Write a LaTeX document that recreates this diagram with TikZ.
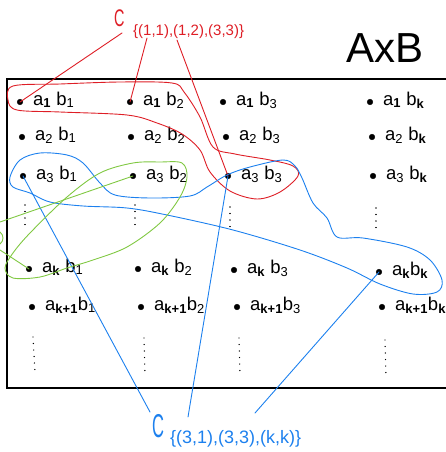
\documentclass[tikz,border=0pt]{standalone}
\usepackage{fontspec}
\setmainfont{Liberation Sans}
\usetikzlibrary{calc}

\definecolor{penred}{RGB}{222,30,38}
\definecolor{penblue}{RGB}{28,128,238}
\definecolor{pengreen}{RGB}{128,200,66}

\newcommand{\bsub}[1]{\textsubscript{\textbf{#1}}}
\newcommand{\nsub}[1]{\textsubscript{#1}}

\begin{document}
\begin{tikzpicture}[x=1pt,y=-1pt,
    pair/.style={anchor=base west, inner sep=0pt, font=\fontsize{18.5}{18.5}\selectfont},
    pen/.style={line width=0.9pt, line cap=round, line join=round},
    vdots/.style={line width=1.4pt, dash pattern=on 0.01pt off 6.5pt, line cap=round}]
    \clip (0,0) rectangle (446,452);
    % the set A x B
    \draw[line width=1.1pt] (7,79) rectangle (470,388);
    \node[anchor=base, inner sep=0pt, font=\fontsize{42}{42}\selectfont] (title) at (385,63) {AxB};
    \foreach \nm/\px/\py/\txt in {
        a1b1/20/102/{a\bsub{1} b\nsub{1}}, a1b2/130/102/{a\bsub{1} b\nsub{2}},
        a1b3/223/102/{a\bsub{1} b\nsub{3}}, a1bk/370/102/{a\bsub{1} b\bsub{k}},
        a2b1/22/137/{a\nsub{2} b\nsub{1}}, a2b2/131/137/{a\nsub{2} b\nsub{2}},
        a2b3/226/137/{a\nsub{2} b\nsub{3}}, a2bk/372/137/{a\nsub{2} b\bsub{k}},
        a3b1/23/176/{a\nsub{3} b\nsub{1}}, a3b2/133/176/{a\nsub{3} b\nsub{2}},
        a3b3/228/176/{a\nsub{3} b\nsub{3}}, a3bk/373/176/{a\nsub{3} b\bsub{k}},
        akb1/29/269/{a\bsub{k} b\nsub{1}}, akb2/138/269/{a\bsub{k} b\nsub{2}},
        akb3/234/270/{a\bsub{k} b\nsub{3}}, akbk/379/272/{a\bsub{k}b\bsub{k}},
        aab1/32/307/{a\bsub{k+1}b\nsub{1}}, aab2/141/307/{a\bsub{k+1}b\nsub{2}},
        aab3/237/307/{a\bsub{k+1}b\nsub{3}}, aabk/382/307/{a\bsub{k+1}b\bsub{k}}} {
        \coordinate (\nm) at (\px,\py);
        \filldraw (\nm) circle (2.8pt);
        \node[pair] (t\nm) at ($(\nm)+(13,3)$) {\txt};
    }
    % vertical dots
    \foreach \xa/\xb/\ya/\yb in {25/25/205/230, 135/135/205/231, 230/230/207/232, 376/376/208/233,
        33/35/337/373, 144/145/338/375, 239/240/338/375, 385/386/340/377}
        {\draw[vdots] (\xa,\ya) -- (\xb,\yb);}
    % red set
    \node[anchor=base west, inner sep=0pt, text=penred, font=\fontsize{24}{24}\selectfont] (redC) at (114,27) {\scalebox{0.6}[1]{C}};
    \node[anchor=base west, inner sep=0pt, text=penred, font=\fontsize{15}{15}\selectfont] (redsub) at (133,36) {\{(1,1),(1,2),(3,3)\}};
    \coordinate (rl1) at (122,33);
    \coordinate (rl2) at (147,38);
    \coordinate (rl3) at (177,40);
    \draw[pen, penred] (rl1) -- (a1b1);
    \draw[pen, penred] (rl2) -- (a1b2);
    \draw[pen, penred] (rl3) -- (a3b3);
    \draw[pen, penred] plot[smooth cycle, tension=0.55] coordinates {
        (8,100) (13,86) (60,84) (120,82) (172,83) (184,92) (200,117) (213,147) (235,154)
        (270,160) (293,166) (298,176) (280,192) (257,199) (230,191) (210,172) (200,150)
        (182,134) (157,123) (127,115) (60,112) (17,110)};
    % blue set
    \node[anchor=base west, inner sep=0pt, text=penblue, font=\fontsize{33}{33}\selectfont] (blueC) at (152,437) {\scalebox{0.5}[1]{C}};
    \node[anchor=base west, inner sep=0pt, text=penblue, font=\fontsize{18}{18}\selectfont] (bluesub) at (170,443) {\{(3,1),(3,3),(k,k)\}};
    \coordinate (bl1) at (150,412);
    \coordinate (bl2) at (188,417);
    \coordinate (bl3) at (255,413);
    \draw[pen, penblue] (bl1) -- (a3b1);
    \draw[pen, penblue] (bl2) -- (a3b3);
    \draw[pen, penblue] (bl3) -- (akbk);
    \draw[pen, penblue] plot[smooth cycle, tension=0.55] coordinates {
        (10,177) (20,160) (40,153) (67,155) (83,163) (100,183) (115,195) (150,198) (190,196)
        (207,187) (227,175) (250,167) (283,160) (295,166) (302,178) (313,203) (327,218)
        (337,237) (363,238) (407,247) (430,260) (442,280) (437,292) (413,294) (380,284)
        (347,268) (300,250) (233,230) (167,215) (127,208) (83,206) (50,202) (30,193) (13,187)};
    % green set
    \coordinate (gl1) at (0,222);
    \coordinate (gl2) at (0,250);
    \draw[pen, pengreen] (gl1) -- (a3b2);
    \draw[pen, pengreen] (gl2) -- (akb1);
    \draw[pen, pengreen] (0,232) .. controls (4,235) and (4,241) .. (0,244);
    \draw[pen, pengreen] plot[smooth cycle, tension=0.55] coordinates {
        (182,163) (187,177) (180,197) (160,223) (127,247) (93,260) (67,268) (40,277)
        (13,278) (5,268) (13,253) (30,233) (67,197) (100,173) (133,163) (160,162)};
\end{tikzpicture}
\end{document}
